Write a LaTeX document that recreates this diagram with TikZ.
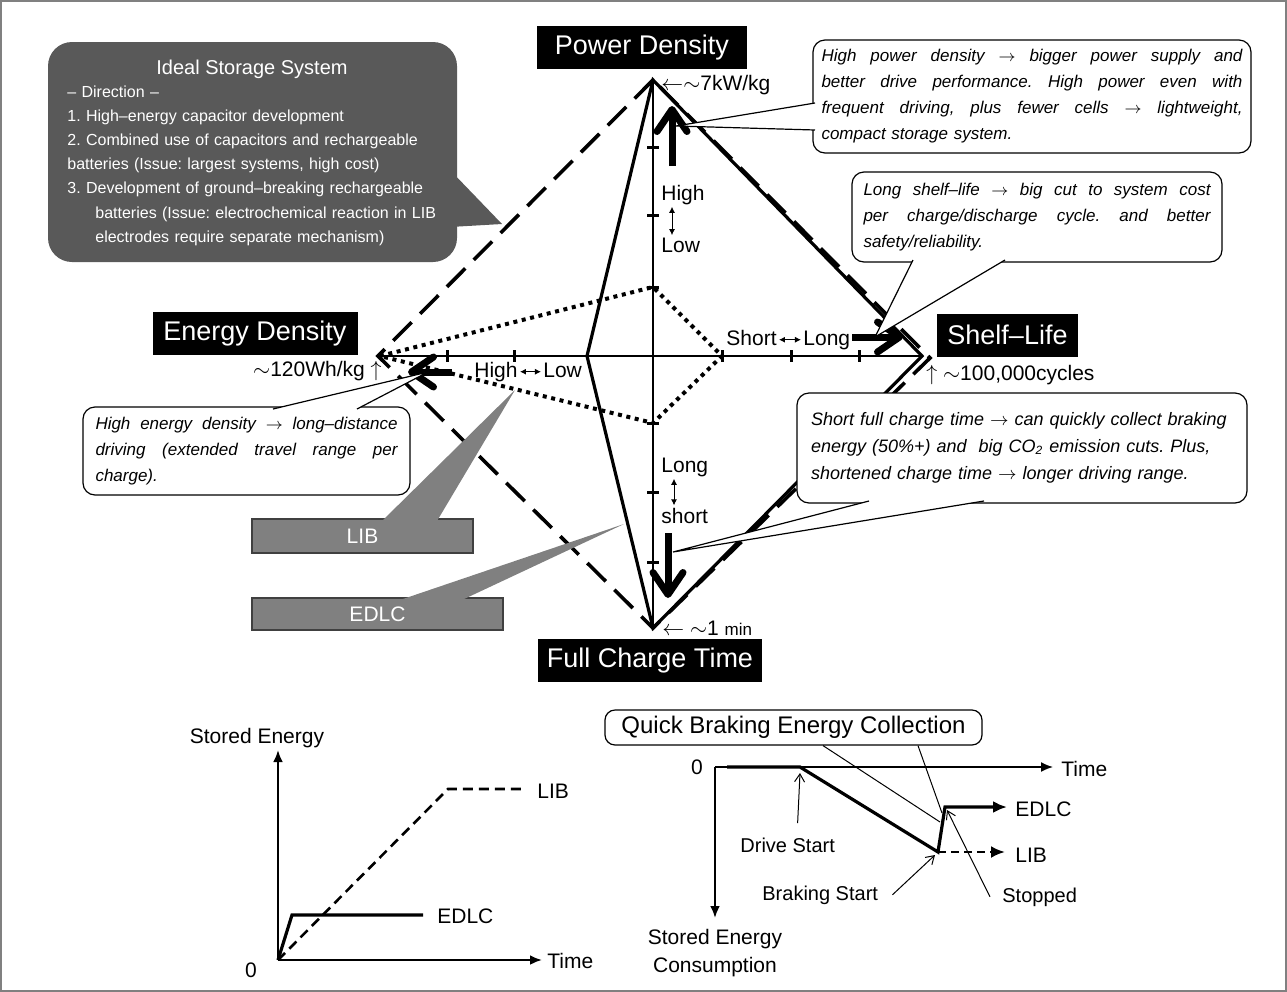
\documentclass[tikz,border=0pt]{standalone}
\usepackage{fontspec}
\setmainfont{Liberation Sans}
\usetikzlibrary{arrows.meta,positioning}
\definecolor{idealgray}{RGB}{89,89,89}
\definecolor{labelgray}{RGB}{128,128,128}
\frenchspacing
\newcommand\fsaxis{\fontsize{13.5pt}{16pt}\selectfont}
\newcommand\fslab{\fontsize{10.5pt}{12.5pt}\selectfont}
\newcommand\fssmall{\fontsize{8.5pt}{10pt}\selectfont}
\newcommand\fsnote{\fontsize{8.5pt}{13pt}\selectfont\itshape}
\newcommand\fsnotec{\fontsize{9pt}{13.5pt}\selectfont\itshape}
\newcommand\fsideal{\fontsize{8pt}{12.1pt}\selectfont}
\newcommand\fspoint{\fontsize{10pt}{12pt}\selectfont}
\newcommand\jl[2]{\makebox[#1][s]{\spaceskip=.28em plus 1fil minus .05em\relax #2}}
\newcommand\nra{$\rightarrow$}
\tikzset{
  axisname/.style={fill=black,text=white,font=\fsaxis,minimum height=21.5pt,inner xsep=3pt},
  note/.style={draw,fill=white,rounded corners=6pt,align=left,font=\fsnote,line width=0.6pt,inner ysep=3pt},
  tailline/.style={fill=white,line width=0.6pt},
  idealline/.style={line width=1.8pt,dash pattern=on 13pt off 6pt},
  edlcline/.style={line width=1.6pt},
  libline/.style={line width=2pt,dash pattern=on 2pt off 2.3pt},
  ticks/.style={line width=1.5pt},
  bigarrow/.style={line width=3.5pt,-{Straight Barb[length=11pt,width=15pt,round]}},
  smallarr/.style={line width=0.5pt,{Latex[length=3pt,width=3pt]}-{Latex[length=3pt,width=3pt]},shorten >=1pt,shorten <=1pt},
  graybox/.style={fill=labelgray,draw=black!75,line width=0.6pt,text=white,font=\fslab},
  pointer/.style={line width=0.5pt,-{Straight Barb[length=4pt,width=5pt]}},
  plotaxis/.style={line width=1.2pt,-{Latex[length=6pt,width=5pt]}},
}
\begin{document}
\begin{tikzpicture}[x=0.5pt,y=-0.5pt,font=\fslab,inner sep=0pt]
\useasboundingbox (0,0) rectangle (1287,992);
\draw[black!50,line width=0.6pt] (1,1) rectangle (1286,991);

% radar chart axes
\coordinate (P) at (653,80);
\coordinate (F) at (653,628);
\coordinate (E) at (378,356);
\coordinate (S) at (922,356);
\draw[line width=0.8pt] (P)--(F);
\draw[line width=0.8pt] (E)--(S);
\foreach \x in {447,514,722,791,859}
\draw[ticks] (\x,350)--(\x,362);
\foreach \y in {147,215,287,423,492,562}
\draw[ticks] (647,\y)--(659,\y);

% ideal, EDLC, LIB
\draw[idealline] (P)--(E)--(F)--(930,358)--cycle;
\draw[edlcline] (P)--(587,356)--(F)--(S)--cycle;
\draw[libline] (380,356)--(653,287)--(722,356)--(653,423)--cycle;

\draw[bigarrow] (672,166)--(672,106);
\draw[bigarrow] (668,533)--(668,598);
\draw[bigarrow] (452,372)--(408,372);
\draw[bigarrow] (852,337)--(903,337);

\node[axisname,minimum width=105pt] (pd) at (642,47.5) {Power Density};
\node[axisname,minimum width=102.5pt] (ed) at (255,333.5) {Energy Density};
\node[axisname,minimum width=70.5pt] (sl) at (1007.5,335) {Shelf–Life};
\node[axisname,minimum width=112pt] (fc) at (650,660.5) {Full Charge Time};

\node[anchor=base west] (pdmax) at (661,90) {$\leftarrow\sim$7kW/kg};
\node[anchor=base east] (edmax) at (382,376) {$\sim$120Wh/kg\ $\uparrow$};
\node[anchor=base west] (slmax) at (926,380) {$\uparrow$\ $\sim$100,000cycles};
\node[anchor=base west] (fcmax) at (662,635) {$\leftarrow$\ $\sim$1 {\fssmall min}};

\node[anchor=base west] (hpH) at (661,200) {High};
\node[anchor=base west] (hpL) at (661,252) {Low};
\draw[smallarr] (672,0 |- hpH.south)--(672,0 |- hpL.north);
\node[anchor=base west] (lsL) at (661,472) {Long};
\node[anchor=base west] (lsS) at (661,523) {short};
\draw[smallarr] (674,0 |- lsL.south)--(674,0 |- lsS.north);
\node[anchor=base west] (hlH) at (474,377) {High};
\node[base right=12.5pt of hlH] (hlL) {Low};
\draw[smallarr] (hlH.mid east)--(hlL.mid west);
\node[anchor=base west] (slS) at (726,345) {Short};
\node[base right=13pt of slS] (slL) {Long};
\draw[smallarr] (slS.mid east)--(slL.mid west);

% callouts
\coordinate (tipI) at (502,224);
\coordinate (tipP) at (676,126);
\coordinate (tipS) at (875,337);
\coordinate (tipE) at (428,372);
\coordinate (tipF) at (673,552);
\coordinate (tipL) at (515,390);
\coordinate (tipD) at (624,524);

\node[fill=idealgray,rounded corners=12pt,minimum width=204.5pt,minimum height=110pt] (ideal) at (252.5,152) {};
\fill[idealgray] (450,170)--(tipI)--(450,227);
\node[anchor=base,text=white,font=\fontsize{10pt}{12pt}\selectfont] (idealtitle) at (252,74) {Ideal Storage System};
\node[anchor=base west,text=white,font=\fsideal,text width=190pt,align=left] (idealtext) at (67,97)
 {– Direction –\\
 1. High–energy capacitor development\\
 2. Combined use of capacitors and rechargeable\\
 batteries (Issue: largest systems, high cost)\\
 3. Development of ground–breaking rechargeable\\
 \hspace*{14pt}batteries (Issue: electrochemical reaction in LIB\\
 \hspace*{14pt}electrodes require separate mechanism)};

\node[note,text width=210.5pt,minimum height=56.5pt,inner xsep=4.25pt] (notepd) at (1032,96.5)
 {\jl{210.5pt}{High power density \nra{} bigger power supply and}\\
 \jl{210.5pt}{better drive performance. High power even with}\\
 \jl{210.5pt}{frequent driving, plus fewer cells \nra{} lightweight,}\\
 compact storage system.};
\filldraw[tailline] (815,103)--(tipP)--(815,130);

\node[note,text width=173.5pt,minimum height=45pt,inner xsep=5.75pt] (notesl) at (1037,217)
 {\jl{173.5pt}{Long shelf–life \nra{} big cut to system cost}\\
 \jl{173.5pt}{per charge/discharge cycle. and better}\\
 safety/reliability.};
\filldraw[tailline] (913,260)--(tipS)--(1005,260);

\node[note,text width=151pt,minimum height=44pt,inner xsep=6.25pt] (noteed) at (246.5,451)
 {\jl{151pt}{High energy density \nra{} long–distance}\\
 \jl{151pt}{driving (extended travel range per}\\
 charge).};
\filldraw[tailline] (273,409)--(tipE)--(357,409);

\node[note,font=\fsnotec,text width=211pt,minimum height=55pt,inner xsep=7pt] (notefc) at (1022,448)
 {Short full charge time \nra{} can quickly collect braking\\
 energy (50\%+) and\ \ big CO\textsubscript{2} emission cuts. Plus,\\
 shortened charge time \nra{} longer driving range.};
\filldraw[tailline] (869,501)--(tipF)--(984,501);

\node[graybox,minimum width=110.5pt,minimum height=17pt] (lib) at (362.5,536) {LIB};
\fill[labelgray] (382,521)--(tipL)--(437,521);
\node[graybox,minimum width=125.5pt,minimum height=16pt] (edlc) at (377.5,614) {EDLC};
\fill[labelgray] (400,600)--(tipD)--(462,600);

% stored energy vs time
\coordinate (O1) at (278,960);
\draw[plotaxis] (O1)--(278,750);
\draw[plotaxis] (O1)--(542,960);
\draw[line width=1.6pt] (O1)--(292,915)--(423,915);
\draw[line width=1.3pt,dash pattern=on 5pt off 3pt] (O1)--(448,789)--(525,789);
\node[anchor=base] (se1) at (257,743) {Stored Energy};
\node[anchor=base west] (lib1) at (537,798) {LIB};
\node[anchor=base west] (edlc1) at (437,923) {EDLC};
\node[anchor=base west] (time1) at (547,968) {Time};
\node[anchor=base] (zero1) at (251,977) {0};

% stored energy consumption
\coordinate (O2) at (715,767);
\draw[plotaxis,line width=0.8pt] (O2)--(1053,767);
\draw[plotaxis] (O2)--(715,918);
\draw[line width=1.6pt,-{Latex[length=7pt,width=6pt]}] (727,767)--(800,767)--(938,852)--(945,807)--(1007,807);
\draw[line width=1.3pt,dash pattern=on 4pt off 2.5pt,-{Latex[length=7pt,width=6pt]}] (938,852)--(1005,852);
\node[anchor=base] (zero2) at (697,774) {0};
\node[anchor=base west] (time2) at (1061,776) {Time};
\node[anchor=base west] (edlc2) at (1015,816) {EDLC};
\node[anchor=base west] (lib2) at (1015,862) {LIB};
\node[anchor=north,align=center,font=\fontsize{10.5pt}{14pt}\selectfont] (se2) at (715,929) {Stored Energy\\Consumption};
\node[draw,fill=white,rounded corners=5pt,line width=0.6pt,minimum width=188.5pt,minimum height=17.5pt,font=\fontsize{12pt}{14pt}\selectfont] (qb) at (793.5,727.5) {Quick Braking Energy Collection};
\coordinate (qb1) at (940,822);
\coordinate (qb2) at (942,813);
\draw[line width=0.5pt] ([xshift=14.75pt]qb.south)--(qb1);
\draw[line width=0.5pt] ([xshift=62.25pt]qb.south)--(qb2);
\node[anchor=base west,font=\fspoint] (drive) at (740,852) {Drive Start};
\node[anchor=base west,font=\fspoint] (brake) at (762,900) {Braking Start};
\node[anchor=base west,font=\fspoint] (stop) at (1002,902) {Stopped};
\coordinate (drivept) at (800,773);
\coordinate (brakept) at (935,855);
\coordinate (stoppt) at (947,810);
\draw[pointer] ([xshift=5pt,yshift=7pt]drive.north)--(drivept);
\draw[pointer] ([xshift=7pt]brake.east)--(brakept);
\draw[pointer] ([xshift=-6pt]stop.west)--(stoppt);
\end{tikzpicture}
\end{document}
